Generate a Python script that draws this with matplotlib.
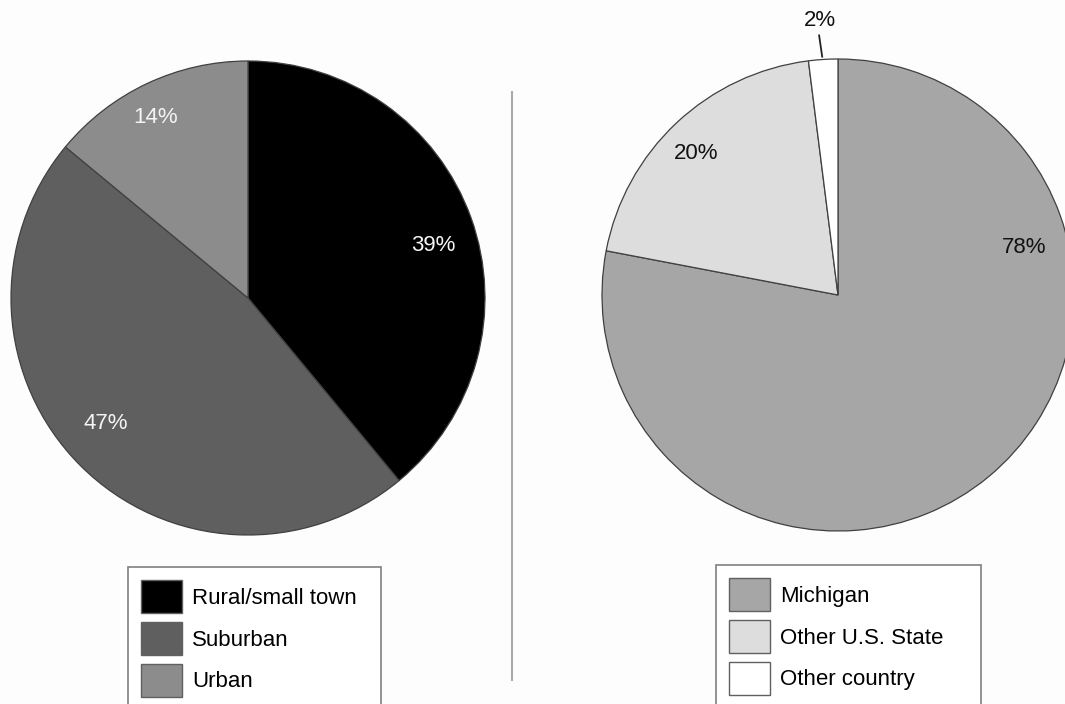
import matplotlib.pyplot as plt

plt.rcParams['font.family'] = ['Liberation Sans', 'DejaVu Sans']

# hometown type
home_labels = ['Rural/small town', 'Suburban', 'Urban']
home_pct = [39, 47, 14]
home_colors = ['#000000', '#5f5f5f', '#8c8c8c']

# home state / country
state_labels = ['Michigan', 'Other U.S. State', 'Other country']
state_pct = [78, 20, 2]
state_colors = ['#a6a6a6', '#dddddd', '#ffffff']

W, H = 1065, 704
FS = 16
fig = plt.figure(figsize=(W / 100, H / 100), dpi=100)
fig.patch.set_facecolor('#fdfdfd')


def pie_axes(cx, cy, r):
    # square axes in pixel terms, centre (cx, cy) measured from the top-left
    pad = 1.05
    side = 2 * r * pad
    return fig.add_axes([(cx - r * pad) / W, (H - cy - r * pad) / H, side / W, side / H])


def draw_pie(ax, values, colors):
    wedges, _ = ax.pie(values, colors=colors, startangle=90, counterclock=False,
                       wedgeprops=dict(edgecolor='#404040', linewidth=0.9))
    ax.set_xlim(-1.05, 1.05)
    ax.set_ylim(-1.05, 1.05)
    ax.set_aspect('equal')
    ax.axis('off')
    for w in wedges:
        w.set_clip_on(False)
    return wedges


# left pie
ax1 = pie_axes(248, 298, 237)
w1 = draw_pie(ax1, home_pct, home_colors)
ax1.text(0.78, 0.22, f'{home_pct[0]}%', color='#f4f4f4', fontsize=FS, ha='center', va='center')
ax1.text(-0.6, -0.53, f'{home_pct[1]}%', color='#f4f4f4', fontsize=FS, ha='center', va='center')
ax1.text(-0.39, 0.76, f'{home_pct[2]}%', color='#f4f4f4', fontsize=FS, ha='center', va='center')

# right pie
ax2 = pie_axes(838, 295, 236)
w2 = draw_pie(ax2, state_pct, state_colors)
ax2.text(0.79, 0.2, f'{state_pct[0]}%', color='#111111', fontsize=FS, ha='center', va='center')
ax2.text(-0.6, 0.6, f'{state_pct[1]}%', color='#111111', fontsize=FS, ha='center', va='center')
ax2.text(-0.075, 1.165, f'{state_pct[2]}%', color='#111111', fontsize=FS, ha='center', va='center',
         clip_on=False)
ax2.plot([-0.08, -0.067], [1.1, 1.01], color='#222222', lw=1.3, clip_on=False)

# divider between the two charts
fig.add_artist(plt.Line2D([512 / W, 512 / W], [1 - 92 / H, 1 - 680 / H],
                          color='#aaaaaa', lw=1.5))

legend_kw = dict(loc='upper left', mode='expand', borderaxespad=0, fontsize=FS,
                 handlelength=1.85, handleheight=1.9, labelspacing=0.4,
                 handletextpad=0.45, borderpad=0.6, fancybox=False,
                 edgecolor='#808080', framealpha=1)

leg1 = fig.legend(w1, home_labels,
                  bbox_to_anchor=(128 / W, 1 - 567 / H, 253 / W, 0), **legend_kw)
leg2 = fig.legend(w2, state_labels,
                  bbox_to_anchor=(716 / W, 1 - 565 / H, 265 / W, 0), **legend_kw)
for leg in (leg1, leg2):
    leg.get_frame().set_linewidth(1.2)
    for h in leg.legend_handles:
        h.set_edgecolor('#606060')
        h.set_linewidth(1.0)

fig.savefig('out.png', dpi=100, facecolor=fig.get_facecolor())
